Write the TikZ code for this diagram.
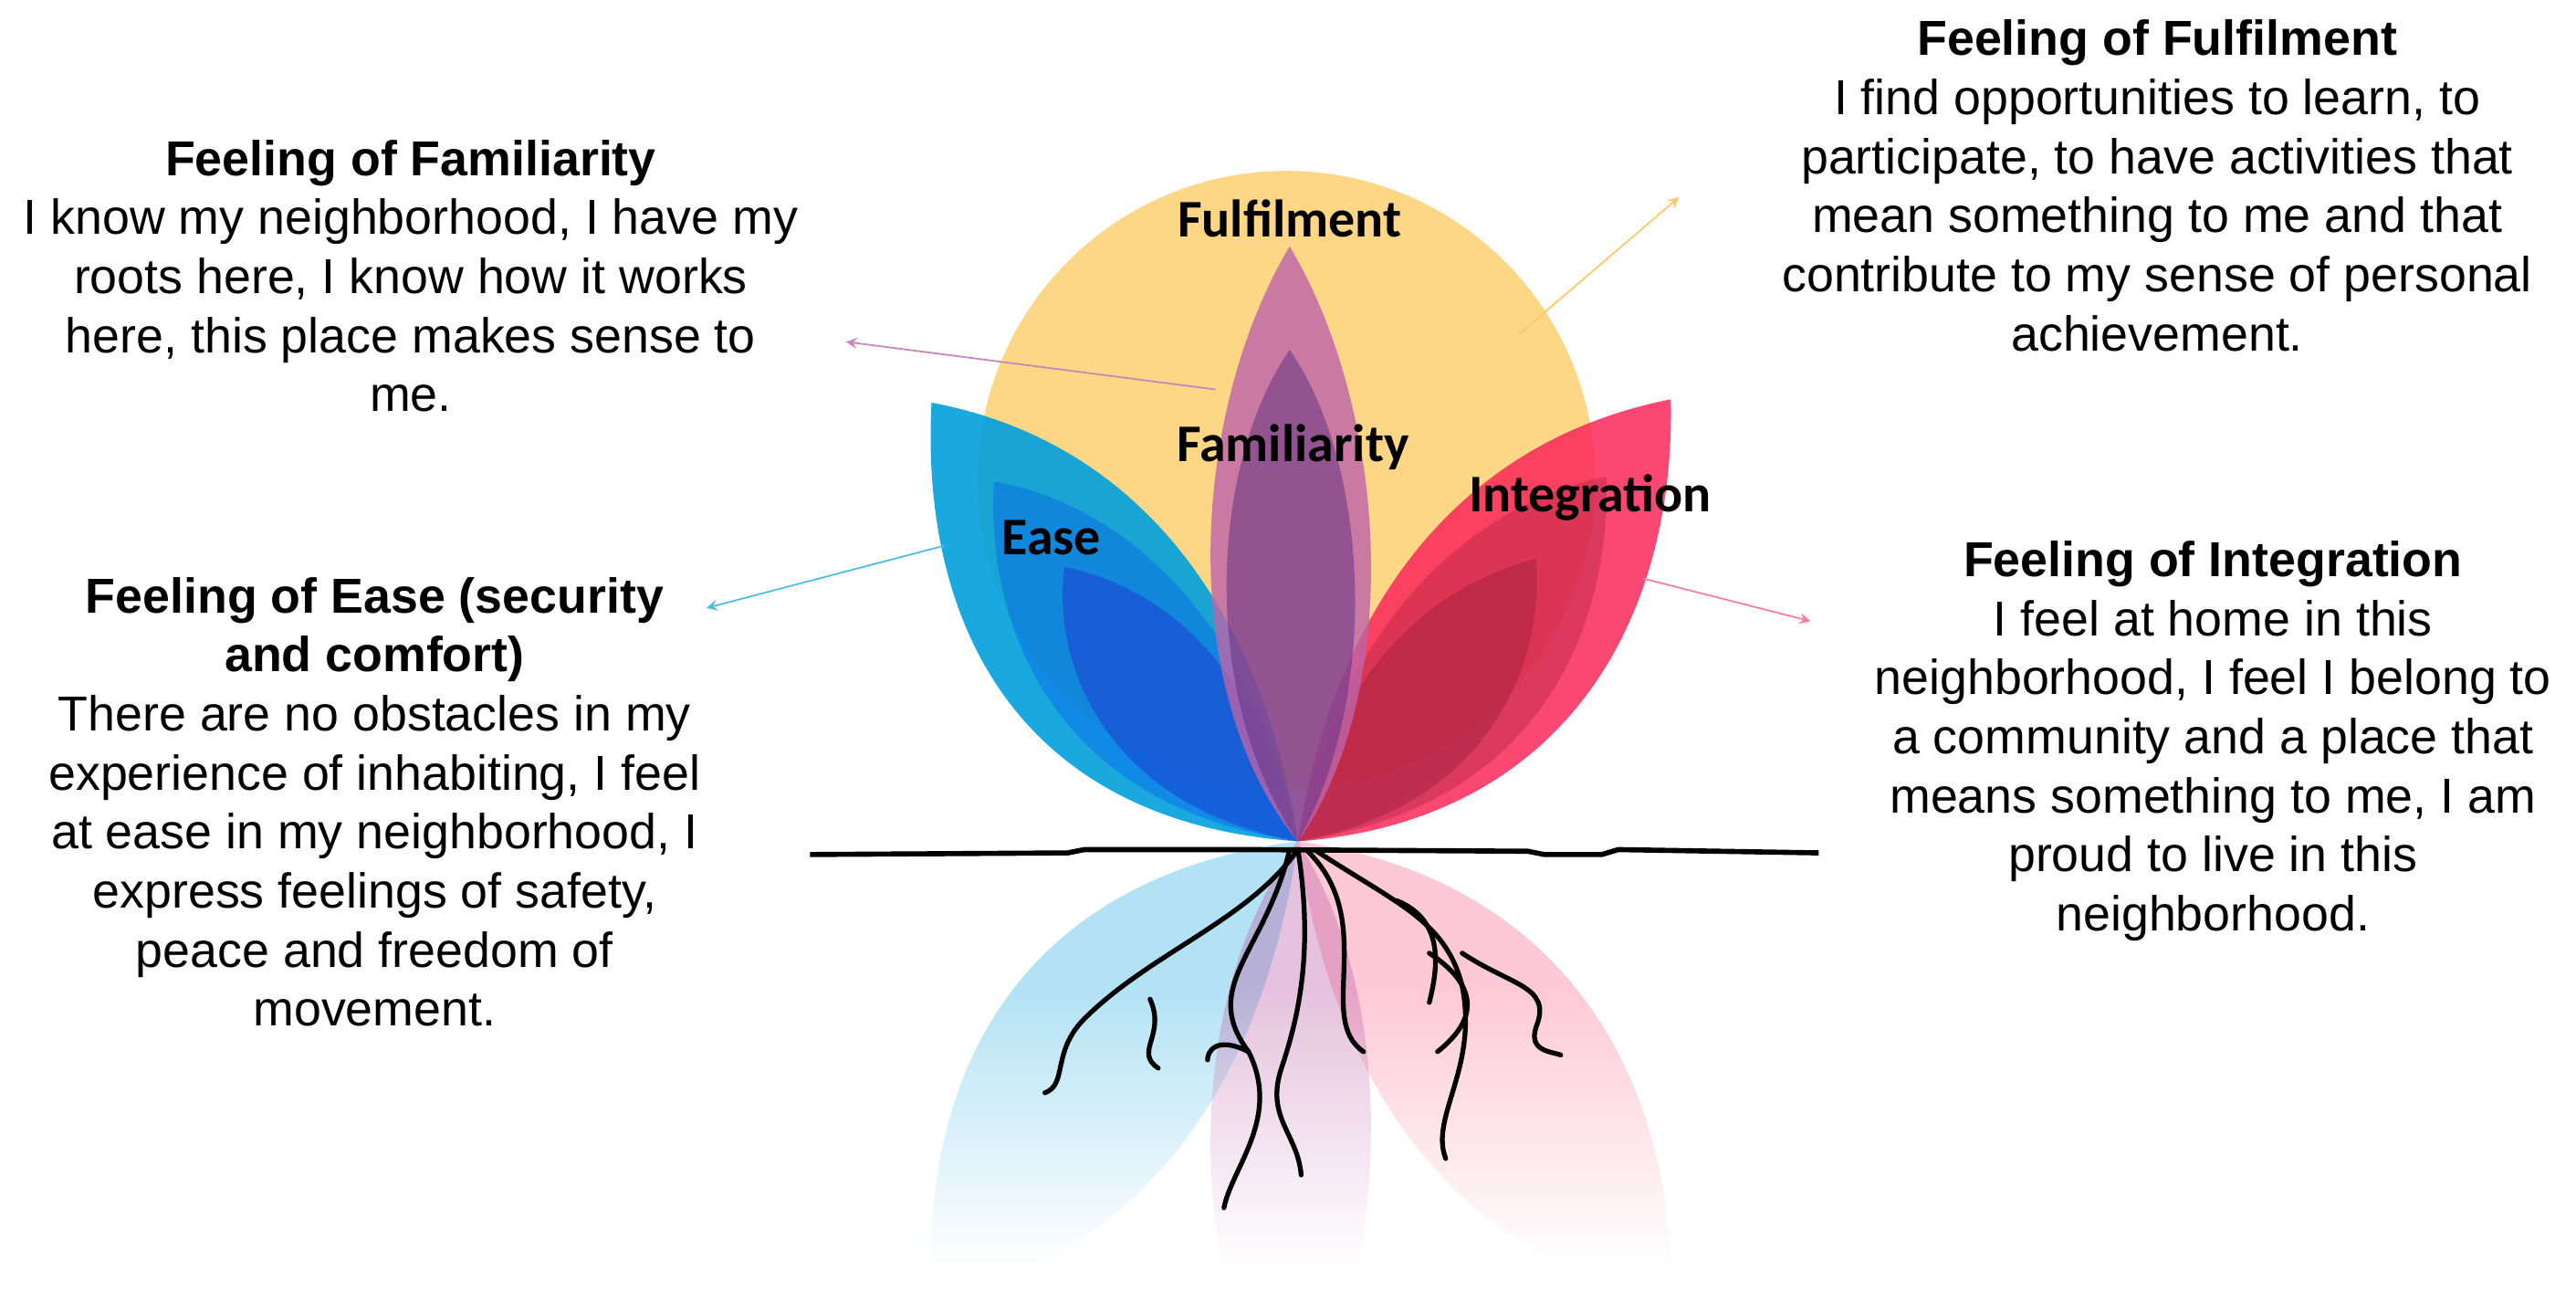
\documentclass[tikz,border=0pt]{standalone}
\usepackage{fontspec}
\setmainfont{Liberation Sans}
\newfontfamily\carl{Carlito}
\usetikzlibrary{fadings}
\definecolor{yel}{RGB}{253,208,112}
\definecolor{blu}{RGB}{0,160,220}
\definecolor{red}{RGB}{250,40,90}
\definecolor{pnk}{RGB}{190,100,170}
\definecolor{pur}{RGB}{100,50,130}
\begin{document}
\begin{tikzpicture}[x=0.018cm,y=-0.018cm,
 txt/.style={align=center,font=\fontsize{15.3}{18.4}\selectfont},
 lbl/.style={font=\carl\bfseries\fontsize{16.5}{18}\selectfont},
 arr/.style={->,>=stealth,line width=0.5pt}]
\useasboundingbox (0,0) rectangle (1568,786);
\coordinate (B) at (790,512);
% reflection
\begin{scope}[yscale=-1,shift={(0,-1034)}]
\fill[blu,opacity=0.3] (B) .. controls (620,500) and (560,380) .. (567,245) .. controls (700,270) and (770,380) .. (B);
\fill[red,opacity=0.25] (B) .. controls (950,500) and (1020,380) .. (1017,243) .. controls (880,270) and (810,380) .. (B);
\fill[pnk,opacity=0.4] (B) .. controls (715,420) and (725,250) .. (785,150) .. controls (845,250) and (855,420) .. (B);
\end{scope}
\fill[white,path fading=north] (480,600) rectangle (1120,770);
\fill[white] (480,768) rectangle (1120,790);
% flower
\fill[yel,opacity=0.85] (783,292) circle (188);
\fill[blu,opacity=0.9] (B) .. controls (620,500) and (560,380) .. (567,245) .. controls (700,270) and (770,380) .. (B);
\fill[blue!50!blu,opacity=0.35] (B) .. controls (640,490) and (600,380) .. (605,293) .. controls (700,310) and (770,400) .. (B);
\fill[blue!60!pur,opacity=0.35] (B) .. controls (670,490) and (640,400) .. (648,345) .. controls (720,360) and (770,420) .. (B);
\fill[red,opacity=0.85] (B) .. controls (950,500) and (1020,380) .. (1017,243) .. controls (880,270) and (810,380) .. (B);
\fill[red!60!black,opacity=0.3] (B) .. controls (940,490) and (980,380) .. (978,290) .. controls (880,310) and (810,400) .. (B);
\fill[red!50!black,opacity=0.3] (B) .. controls (910,490) and (940,400) .. (935,340) .. controls (860,360) and (810,420) .. (B);
\fill[pnk,opacity=0.8] (B) .. controls (715,420) and (725,250) .. (785,150) .. controls (845,250) and (855,420) .. (B);
\fill[pur,opacity=0.55] (B) .. controls (728,420) and (738,280) .. (785,213) .. controls (832,280) and (842,420) .. (B);
% ground
\draw[line width=1.6pt] (493,520) -- (650,519) -- (660,517) -- (760,517) -- (930,518) -- (940,520) -- (975,520) -- (985,517) -- (1107,519);
% roots
\begin{scope}[line width=1.5pt,line cap=round]
\draw (790,517) .. controls (760,560) and (700,580) .. (660,620) .. controls (640,640) and (650,660) .. (636,665);
\draw (700,608) .. controls (710,630) and (690,640) .. (705,650);
\draw (785,517) .. controls (770,580) and (730,600) .. (760,640) .. controls (780,680) and (750,710) .. (745,735);
\draw (760,640) .. controls (740,630) and (735,640) .. (735,645);
\draw (790,517) .. controls (800,580) and (790,620) .. (780,650) .. controls (770,680) and (790,690) .. (792,715);
\draw (795,517) .. controls (840,560) and (800,620) .. (830,640);
\draw (800,517) .. controls (850,550) and (880,560) .. (890,600) .. controls (900,650) and (870,680) .. (880,705);
\draw (850,548) .. controls (880,560) and (875,590) .. (870,610);
\draw (890,580) .. controls (920,600) and (945,600) .. (935,625) .. controls (930,640) and (945,640) .. (950,642);
\draw (870,580) .. controls (900,600) and (900,620) .. (875,640);
\end{scope}
% labels
\node[lbl] (lf) at (785,133) {Fulfilment};
\node[lbl] (lfa) at (787,272) {Familiarity};
\node[lbl] (le) at (640,327) {Ease};
\node[lbl] (li) at (968,303) {Integration};
% texts
\node[txt] (tfa) at (250,168) {\textbf{Feeling of Familiarity}\\I know my neighborhood, I have my\\roots here, I know how it works\\here, this place makes sense to\\me.};
\node[txt] (tfu) at (1313,113) {\textbf{Feeling of Fulfilment}\\I find opportunities to learn, to\\participate, to have activities that\\mean something to me and that\\contribute to my sense of personal\\achievement.};
\node[txt] (te) at (228,488) {\textbf{Feeling of Ease (security}\\\textbf{and comfort)}\\There are no obstacles in my\\experience of inhabiting, I feel\\at ease in my neighborhood, I\\express feelings of safety,\\peace and freedom of\\movement.};
\node[txt] (ti) at (1347,451) {\textbf{Feeling of Integration}\\I feel at home in this\\neighborhood, I feel I belong to\\a community and a place that\\means something to me, I am\\proud to live in this\\neighborhood.};
% arrows
\coordinate (a1) at (740,237); \coordinate (a1e) at (515,208);
\coordinate (a2) at (925,203); \coordinate (a2e) at (1022,120);
\coordinate (a3) at (575,332); \coordinate (a3e) at (430,370);
\coordinate (a4) at (1000,352); \coordinate (a4e) at (1102,378);
\draw[arr,pnk!80] (a1) -- (a1e);
\draw[arr,yel!90!orange] (a2) -- (a2e);
\draw[arr,blu!70] (a3) -- (a3e);
\draw[arr,red!60] (a4) -- (a4e);
\end{tikzpicture}
\end{document}
